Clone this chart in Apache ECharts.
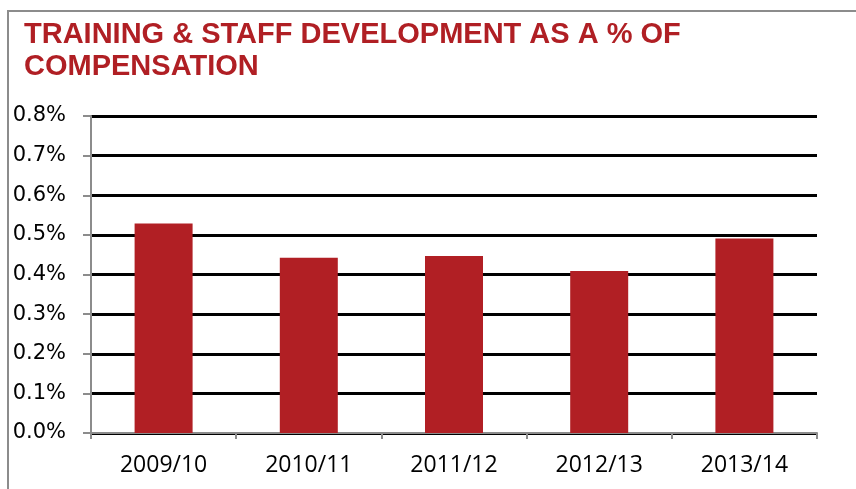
<!DOCTYPE html>
<html>
<head>
<meta charset="utf-8">
<script src="https://cdn.jsdelivr.net/npm/echarts@6/dist/echarts.min.js"></script>
<style>
  html, body { margin: 0; padding: 0; background: #fff; }
  #main { width: 856px; height: 489px; }
</style>
</head>
<body>
<div id="main"></div>
<script>
// values (percent of compensation)
const years = ['2009/10', '2010/11', '2011/12', '2012/13', '2013/14'];
const pctValues = [0.529, 0.442, 0.447, 0.409, 0.491];
const yTicks = { min: 0, max: 0.8, step: 0.1 };

const chart = echarts.init(document.getElementById('main'));
chart.setOption({
  animation: false,
  title: {
    text: 'TRAINING & STAFF DEVELOPMENT AS A % OF\nCOMPENSATION',
    left: 19,
    top: 14,
    textStyle: {
      color: '#B01F24',
      fontFamily: 'Liberation Sans',
      fontWeight: 'bold',
      fontSize: 29,
      lineHeight: 32
    }
  },
  graphic: [{
    type: 'rect',
    shape: { x: 8, y: 11, width: 900, height: 600 },
    style: { fill: 'none', stroke: '#8c8c8c', lineWidth: 2 },
    silent: true
  }],
  grid: { left: 91, right: 39, top: 116, bottom: 56, containLabel: false },
  xAxis: {
    type: 'category',
    data: years,
    axisLine: { lineStyle: { color: '#8c8c8c', width: 2 } },
    axisTick: { show: true, length: 6, lineStyle: { color: '#8c8c8c', width: 2 } },
    axisLabel: { color: '#000', fontFamily: 'Open Sans', fontSize: 23, margin: 21 }
  },
  yAxis: {
    type: 'value',
    min: yTicks.min,
    max: yTicks.max,
    interval: yTicks.step,
    axisLine: { show: true, lineStyle: { color: '#8c8c8c', width: 2 } },
    axisTick: { show: true, length: 8, lineStyle: { color: '#8c8c8c', width: 2 } },
    splitLine: { lineStyle: { color: '#000', width: 3 } },
    axisLabel: {
      color: '#000',
      fontFamily: 'DejaVu Sans',
      fontSize: 21,
      margin: 25,
      formatter: v => v.toFixed(1) + '%'
    }
  },
  series: [{
    type: 'bar',
    data: pctValues,
    barWidth: 58,
    itemStyle: { color: '#B11F24' }
  }]
});
</script>
</body>
</html>
